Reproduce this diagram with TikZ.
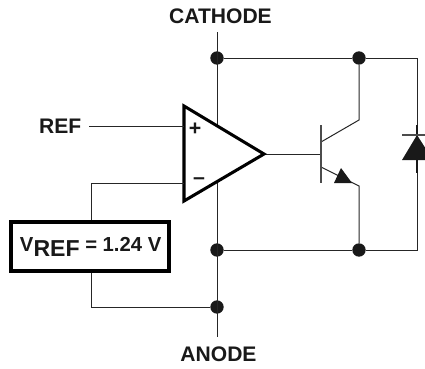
\documentclass[tikz,border=0pt]{standalone}
\usepackage{fontspec}
\setmainfont{Liberation Sans}
\begin{document}
\begin{tikzpicture}[x=0.75pt,y=-0.75pt,
  wire/.style={draw=black!85,line width=0.75pt},
  heavy/.style={draw=black,line width=2.3pt,line join=miter},
  dotnode/.style={circle,fill=black!90,inner sep=0pt,minimum size=10pt},
  lab/.style={font=\bfseries\fontsize{15.8pt}{18pt}\selectfont,text=black!90,inner sep=0pt}]
\useasboundingbox (0,0) rectangle (425,368);
\clip (0,0) rectangle (425,368);
% junctions
\node[dotnode] (d1) at (217,58) {};
\node[dotnode] (d2) at (359,58) {};
\node[dotnode] (d3) at (217,250) {};
\node[dotnode] (d4) at (359,250) {};
\node[dotnode] (d5) at (217,307) {};
\coordinate (top) at (217,32);
\coordinate (bot) at (217,337);
\coordinate (tr) at (417,58);
\coordinate (br) at (417,250);
\coordinate (cc) at (359,120);
\coordinate (ee) at (359,186);
\coordinate (bc) at (321,142);
\coordinate (be) at (321,167);
\coordinate (bb) at (321,154);
\coordinate (inp) at (184,126);
\coordinate (inm) at (184,183);
\coordinate (out) at (264,154);
% wires
\draw[wire] (top) -- (bot);
\draw[wire] (d1) -- (d2) -- (tr) -- (br) -- (d4) -- (d3);
\draw[wire] (d2) -- (cc) -- (bc);
\draw[wire] (d4) -- (ee) -- (be);
\draw[wire] (out) -- (bb);
% op-amp
\draw[heavy,fill=white] (184,106) -- (184,201) -- (out) -- cycle;
\node[font=\bfseries\fontsize{16pt}{16pt}\selectfont,inner sep=0pt,text=black!90] (plus) at (195,129.5) {+};
\node[font=\bfseries\fontsize{16pt}{16pt}\selectfont,inner sep=0pt,text=black!90] (minus) at (199,181) {–};
% transistor
\draw[draw=black!70,line width=1pt] (321,125) -- (321,183);
\fill[black!90] (341,168) -- (352,183) -- (334,183) -- cycle;
% diode
\draw[draw=black!90,line width=1.5pt] (417,125) -- (417,173);
\fill[black!90] (417,135) -- (433,160) -- (402,160) -- cycle;
\draw[draw=black!70,line width=1pt] (402,135) -- (432,135);
% labels and box
\node[lab] (cathode) at (220.5,16.5) {CATHODE};
\node[lab,anchor=east] (ref) at (81.5,126) {REF};
\node[lab] (anode) at (218.5,354) {ANODE};
\node[draw=black,line width=2.3pt,fill=white,minimum width=158pt*0.75,minimum height=49pt*0.75,inner sep=0pt,
      font=\bfseries\fontsize{15.2pt}{16pt}\selectfont,text=black!90] (box) at (90,246.5) {\hspace{1pt}V\raisebox{-0.25em}{\fontsize{17.3pt}{16pt}\selectfont REF} = 1.24 V};
\draw[wire] (89,126) -- (inp);
\draw[wire] (inm) -| (box.north -| 91,0);
\draw[wire] (box.south -| 91,0) |- (d5);
\end{tikzpicture}
\end{document}
